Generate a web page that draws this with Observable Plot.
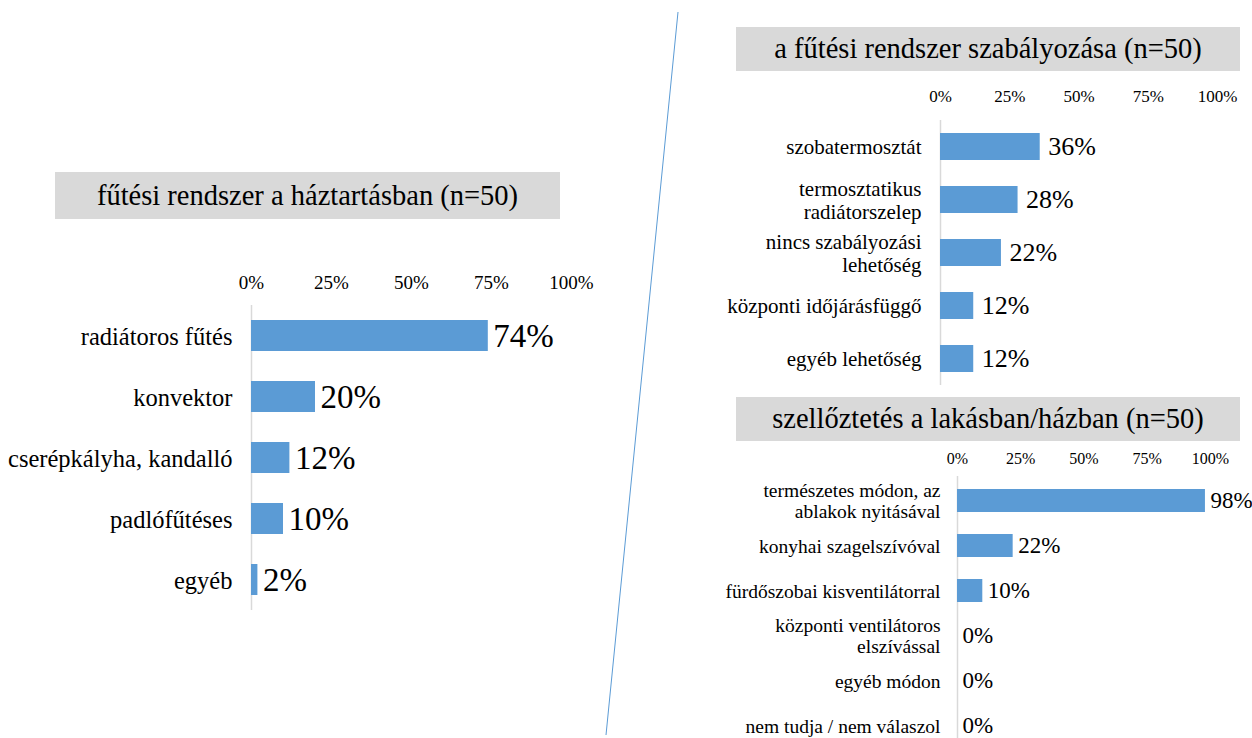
<!DOCTYPE html>
<html>
<head>
<meta charset="utf-8">
<script src="https://cdn.jsdelivr.net/npm/d3@7"></script>
<script src="https://cdn.jsdelivr.net/npm/@observablehq/plot@0.6"></script>
<style>
  html, body { margin: 0; padding: 0; background: #fff; overflow: hidden; }
  #root { position: relative; width: 1252px; height: 738px; overflow: hidden; font-family: "Liberation Serif", "Times New Roman", serif; }
  .title { position: absolute; background: #d9d9d9; color: #000; display: flex; align-items: center; justify-content: center; font-size: 28.5px; white-space: nowrap; }
  .panel { position: absolute; }
  .panel svg, .panel svg text, .panel svg tspan { font-family: "Liberation Serif", "Times New Roman", serif !important; }
  #divider { position: absolute; left: 0; top: 0; }
</style>
</head>
<body>
<div id="root">
  <div class="title" id="t1" style="left:55px;top:172px;width:505px;height:47px;"></div>
  <div class="title" id="t2" style="left:736px;top:27px;width:504px;height:44px;"></div>
  <div class="title" id="t3" style="left:736px;top:397px;width:504px;height:44px;"></div>
  <div class="panel" id="p1" style="left:0px;top:260px;"></div>
  <div class="panel" id="p2" style="left:640px;top:75px;"></div>
  <div class="panel" id="p3" style="left:640px;top:430px;"></div>
  <svg id="divider" width="1252" height="738"><line x1="678" y1="12" x2="606" y2="735" stroke="#5b9bd5" stroke-width="1"/></svg>
</div>
<script>
// ---- Data ----
const titles = [
  "fűtési rendszer a háztartásban (n=50)",
  "a fűtési rendszer szabályozása (n=50)",
  "szellőztetés a lakásban/házban (n=50)"
];
const xTicks = [0, 25, 50, 75, 100];

const heatingCategories = ["radiátoros fűtés", "konvektor", "cserépkályha, kandalló", "padlófűtéses", "egyéb"];
const heatingValues = [74, 20, 12, 10, 2];

const controlCategories = ["szobatermosztát", "termosztatikus\nradiátorszelep", "nincs szabályozási\nlehetőség", "központi időjárásfüggő", "egyéb lehetőség"];
const controlValues = [36, 28, 22, 12, 12];

const ventCategories = ["természetes módon, az\nablakok nyitásával", "konyhai szagelszívóval", "fürdőszobai kisventilátorral", "központi ventilátoros\nelszívással", "egyéb módon", "nem tudja / nem válaszol"];
const ventValues = [98, 22, 10, 0, 0, 0];

// ---- Drawing ----
const barColor = "#5b9bd5";
const fontFamily = "'Liberation Serif', 'Times New Roman', serif";

document.getElementById("t1").textContent = titles[0];
document.getElementById("t2").textContent = titles[1];
document.getElementById("t3").textContent = titles[2];

function panel(cats, vals, o) {
  const data = cats.map((c, i) => ({cat: c, value: vals[i]}));
  return Plot.plot({
    width: o.width,
    height: o.height,
    marginLeft: o.ml,
    marginRight: o.mr,
    marginTop: o.mt,
    marginBottom: o.mb,
    style: {fontFamily, color: "#000", background: "transparent", overflow: "visible"},
    x: {domain: [0, 100], axis: null, label: null},
    y: {domain: cats, axis: null, label: null, paddingInner: 0.5, paddingOuter: 0.25},
    marks: [
      Plot.ruleX([0], {stroke: "#d9d9d9", strokeWidth: 1.5}),
      Plot.barX(data, {x: "value", y: "cat", fill: barColor}),
      Plot.axisX({anchor: "top", ticks: xTicks, tickSize: 0, tickPadding: o.tp, fontSize: o.tickFont, tickFormat: d => d + "%", label: null}),
      Plot.axisY({anchor: "left", tickSize: 0, tickPadding: o.lp, fontSize: o.labelFont, lineHeight: o.lh, label: null}),
      Plot.text(data, {x: "value", y: "cat", text: d => d.value + "%", textAnchor: "start", dx: o.dx, fontSize: o.valueFont})
    ]
  });
}

document.getElementById("p1").appendChild(panel(heatingCategories, heatingValues, {
  width: 640, height: 370, ml: 251, mr: 69, mt: 45, mb: 20, tp: 17, tickFont: 19, lp: 19, labelFont: 24.5, lh: 1.1, valueFont: 33, dx: 5
}));
document.getElementById("p2").appendChild(panel(controlCategories, controlValues, {
  width: 612, height: 325, ml: 300, mr: 35, mt: 45, mb: 15, tp: 19, tickFont: 17, lp: 19, labelFont: 21, lh: 1.1, valueFont: 26, dx: 8
}));
document.getElementById("p3").appendChild(panel(ventCategories, ventValues, {
  width: 612, height: 330, ml: 317, mr: 42, mt: 46, mb: 10, tp: 13, tickFont: 16, lp: 17, labelFont: 19.5, lh: 1.05, valueFont: 23, dx: 5
}));
</script>
</body>
</html>
